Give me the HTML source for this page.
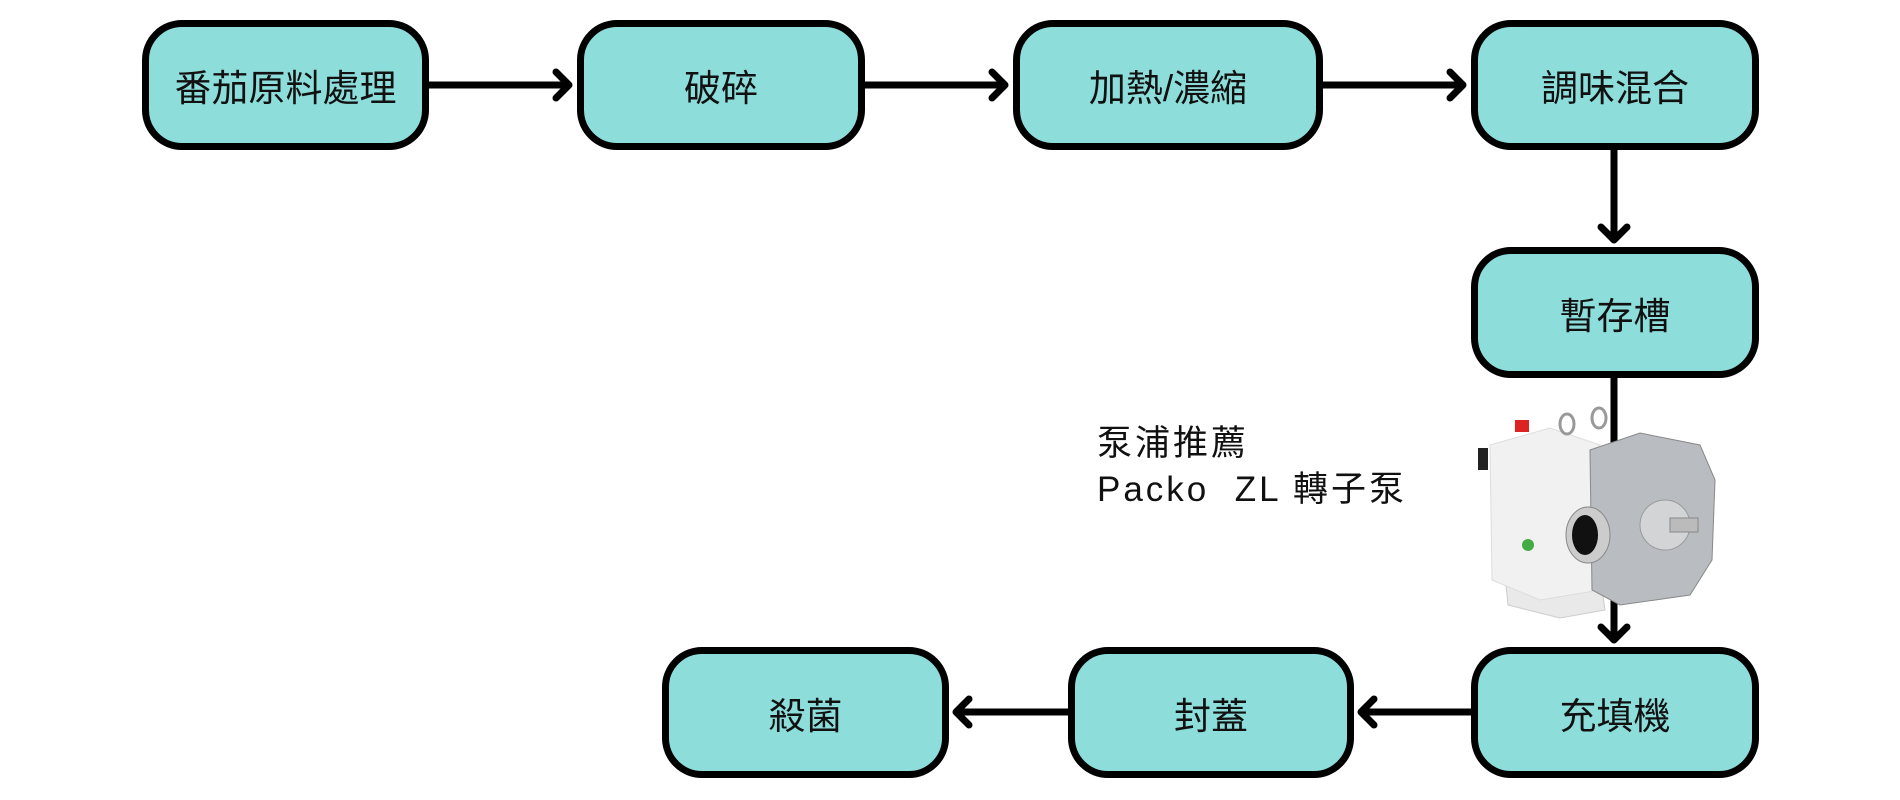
<!DOCTYPE html>
<html><head><meta charset="utf-8"><style>
html,body{margin:0;padding:0;background:#fff;}
body{width:1900px;height:800px;position:relative;overflow:hidden;font-family:"Liberation Sans","Noto Sans CJK TC",sans-serif;}
.b{position:absolute;box-sizing:border-box;border:7px solid #000;border-radius:40px;background:#8ddddb;display:flex;align-items:center;justify-content:center;font-size:37px;color:#111;}
.t{position:absolute;font-size:35px;color:#111;letter-spacing:3px;line-height:46px;}
svg{position:absolute;left:0;top:0;}
</style></head><body>
<svg width="1900" height="800">
<g stroke="#000" stroke-width="7" fill="none" stroke-linecap="round" stroke-linejoin="round">
<line x1="428" y1="85" x2="568" y2="85"/><polyline points="556,72 569,85 556,98"/>
<line x1="864" y1="85" x2="1004" y2="85"/><polyline points="992,72 1005,85 992,98"/>
<line x1="1322" y1="85" x2="1462" y2="85"/><polyline points="1450,72 1463,85 1450,98"/>
<line x1="1614" y1="149" x2="1614" y2="239"/><polyline points="1601,227 1614,240 1627,227"/>
<line x1="1614" y1="377" x2="1614" y2="639"/><polyline points="1601,627 1614,640 1627,627"/>
<line x1="1471" y1="712" x2="1362" y2="712"/><polyline points="1374,699 1361,712 1374,725"/>
<line x1="1068" y1="712" x2="957" y2="712"/><polyline points="969,699 956,712 969,725"/>
</g>
<g>
<path d="M1508 605 L1505 575 L1560 560 L1600 575 L1605 610 L1560 618 Z" fill="#e9e9e9" stroke="#ccc"/>
<path d="M1490 445 L1550 428 L1600 445 L1600 590 L1540 600 L1492 580 Z" fill="#f1f1f1" stroke="#ddd"/>
<rect x="1478" y="448" width="10" height="22" fill="#222"/>
<rect x="1515" y="420" width="14" height="12" fill="#d22"/>
<ellipse cx="1567" cy="424" rx="7" ry="10" fill="none" stroke="#999" stroke-width="3"/>
<ellipse cx="1599" cy="418" rx="7" ry="10" fill="none" stroke="#999" stroke-width="3"/>
<path d="M1590 450 L1640 433 L1700 445 L1715 480 L1712 560 L1690 595 L1620 605 L1592 590 Z" fill="#b9bcc0" stroke="#888"/>
<ellipse cx="1588" cy="535" rx="22" ry="28" fill="#ccc" stroke="#888"/>
<ellipse cx="1585" cy="535" rx="13" ry="20" fill="#111"/>
<circle cx="1665" cy="525" r="25" fill="#d2d4d6" stroke="#999"/>
<rect x="1670" y="518" width="28" height="14" fill="#bbb" stroke="#888"/>
<circle cx="1528" cy="545" r="6" fill="#4a4"/>
</g>
</svg>
<div class="b" style="left:142px;top:20px;width:287px;height:130px">番茄原料處理</div>
<div class="b" style="left:577px;top:20px;width:288px;height:130px">破碎</div>
<div class="b" style="left:1013px;top:20px;width:310px;height:130px">加熱/濃縮</div>
<div class="b" style="left:1471px;top:20px;width:288px;height:130px">調味混合</div>
<div class="b" style="left:1471px;top:247px;width:288px;height:131px">暫存槽</div>
<div class="b" style="left:1471px;top:647px;width:288px;height:131px">充填機</div>
<div class="b" style="left:1068px;top:647px;width:286px;height:131px">封蓋</div>
<div class="b" style="left:662px;top:647px;width:287px;height:131px">殺菌</div>
<div class="t" style="left:1097px;top:421px;">泵浦推薦<br>Packo&nbsp;&nbsp;ZL 轉子泵</div>
</body></html>
